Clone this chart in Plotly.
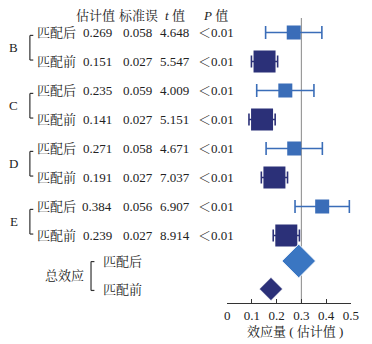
import plotly.graph_objects as go

# ---- data ----
groups = ["B", "C", "D", "E"]
est_after = [0.269, 0.235, 0.271, 0.384]
se_after = [0.058, 0.059, 0.058, 0.056]
t_after = [4.648, 4.009, 4.671, 6.907]
est_before = [0.151, 0.141, 0.191, 0.239]
se_before = [0.027, 0.027, 0.027, 0.027]
t_before = [5.547, 5.151, 7.037, 8.914]
p_text = "＜0.01"
total_labels = ["匹配后", "匹配前"]
total_est = [0.289, 0.177]
headers = ["估计值", "标准误", "<i>t</i> 值", "<i>P</i> 值"]
tick_vals = [0, 0.1, 0.2, 0.3, 0.4, 0.5]
ref_value = 0.3

W, H = 372, 344
FONT = "Liberation Serif, Times New Roman, Noto Serif CJK SC, Noto Sans CJK SC, serif"
C_AFTER = "#3a6db8"
C_BEFORE = "#2b3078"
TXT = "#222222"

# layout geometry (pixels)
row0_px, row_px = 32.5, 29.0
plot_bottom = 303
def ypos(px):
    return (px - row0_px) / row_px

y_after = [2 * i for i in range(len(groups))]
y_before = [2 * i + 1 for i in range(len(groups))]
y_total = [ypos(261), ypos(289)]

fig = go.Figure()

fig.add_trace(go.Scatter(
    x=est_after, y=y_after, mode="markers",
    marker=dict(symbol="square", size=14, color=C_AFTER, opacity=1),
    error_x=dict(type="data", array=[1.96 * s for s in se_after], color=C_AFTER,
                 thickness=1.6, width=6.5),
    showlegend=False, hoverinfo="skip"))
fig.add_trace(go.Scatter(
    x=est_before, y=y_before, mode="markers",
    marker=dict(symbol="square", size=22, color=C_BEFORE, opacity=1),
    error_x=dict(type="data", array=[1.96 * s for s in se_before], color=C_BEFORE,
                 thickness=1.6, width=6),
    showlegend=False, hoverinfo="skip"))
fig.add_trace(go.Scatter(
    x=total_est, y=y_total, mode="markers",
    marker=dict(symbol="diamond", size=[26, 18], color=["#3a76c2", C_BEFORE], opacity=1),
    showlegend=False, hoverinfo="skip"))

ann = []
shapes = []
def text(xpx, y, s, xanchor="center", yref="y", size=13):
    ann.append(dict(x=xpx / W, y=y, xref="paper", yref=yref, text=s, showarrow=False,
                    xanchor=xanchor, yanchor="middle", font=dict(size=size, color=TXT, family=FONT)))

# headers
hy = ypos(15)
for xpx, h in zip([95, 140, 177, 219], headers):
    text(xpx, hy, h)

col_x = [97, 139, 177, 219]
for i, g in enumerate(groups):
    ya, yb = y_after[i], y_before[i]
    text(11, (ya + yb) / 2, g)
    text(55, ya, "匹配后")
    text(55, yb, "匹配前")
    for y, vals in ((ya, (est_after[i], se_after[i], t_after[i])),
                    (yb, (est_before[i], se_before[i], t_before[i]))):
        text(col_x[0], y, f"{vals[0]:.3f}")
        text(col_x[1], y, f"{vals[1]:.3f}")
        text(col_x[2], y, f"{vals[2]:.3f}")
        text(col_x[3], y, p_text)
    # bracket
    bx = 27.7 / W
    t0, t1 = ya + 0.1, yb - 0.05
    for (x0, y0, x1, y1) in ((bx, t0, bx, t1), (bx, t0, bx + 3.5 / W, t0), (bx, t1, bx + 3.5 / W, t1)):
        shapes.append(dict(type="line", xref="paper", yref="y", x0=x0, y0=y0, x1=x1, y1=y1,
                           line=dict(color="#333333", width=1.2)))

# total effect
text(63, (y_total[0] + y_total[1]) / 2, "总效应")
text(101, y_total[0], total_labels[0], xanchor="left")
text(101, y_total[1], total_labels[1], xanchor="left")
bx = 90.7 / W
t0, t1 = y_total[0] + 0.02, y_total[1] + 0.05
for (x0, y0, x1, y1) in ((bx, t0, bx, t1), (bx, t0, bx + 3.5 / W, t0), (bx, t1, bx + 3.5 / W, t1)):
    shapes.append(dict(type="line", xref="paper", yref="y", x0=x0, y0=y0, x1=x1, y1=y1,
                       line=dict(color="#333333", width=1.2)))

# reference line
shapes.append(dict(type="line", xref="x", yref="paper", x0=ref_value, x1=ref_value,
                   y0=0, y1=(plot_bottom - 18) / plot_bottom, layer="below",
                   line=dict(color="#9a9a9a", width=1.2)))

# axis title
ann.append(dict(x=301 / W, y=-28 / plot_bottom, xref="paper", yref="paper",
                text="效应量 ( 估计值 )", showarrow=False, xanchor="center", yanchor="middle",
                font=dict(size=13, color=TXT, family=FONT)))

fig.update_layout(
    width=W, height=H,
    margin=dict(l=0, r=0, t=0, b=H - plot_bottom, pad=0),
    paper_bgcolor="white", plot_bgcolor="white",
    annotations=ann, shapes=shapes,
    xaxis=dict(domain=[231 / W, 358.5 / W], range=[0, 0.5], tickvals=tick_vals,
               ticktext=[("%g" % v) for v in tick_vals],
               showgrid=False, zeroline=False, showline=True, linecolor="#333333", linewidth=1.2,
               ticks="inside", ticklen=4, tickcolor="#333333",
               tickfont=dict(size=13, color=TXT, family=FONT), fixedrange=True),
    yaxis=dict(range=[ypos(plot_bottom), ypos(0)], visible=False, showgrid=False,
               zeroline=False, fixedrange=True),
    font=dict(family=FONT),
)

fig.write_html("out.html", config={"displayModeBar": False},
               post_script="document.body.style.margin='0';document.body.style.overflow='hidden';")
